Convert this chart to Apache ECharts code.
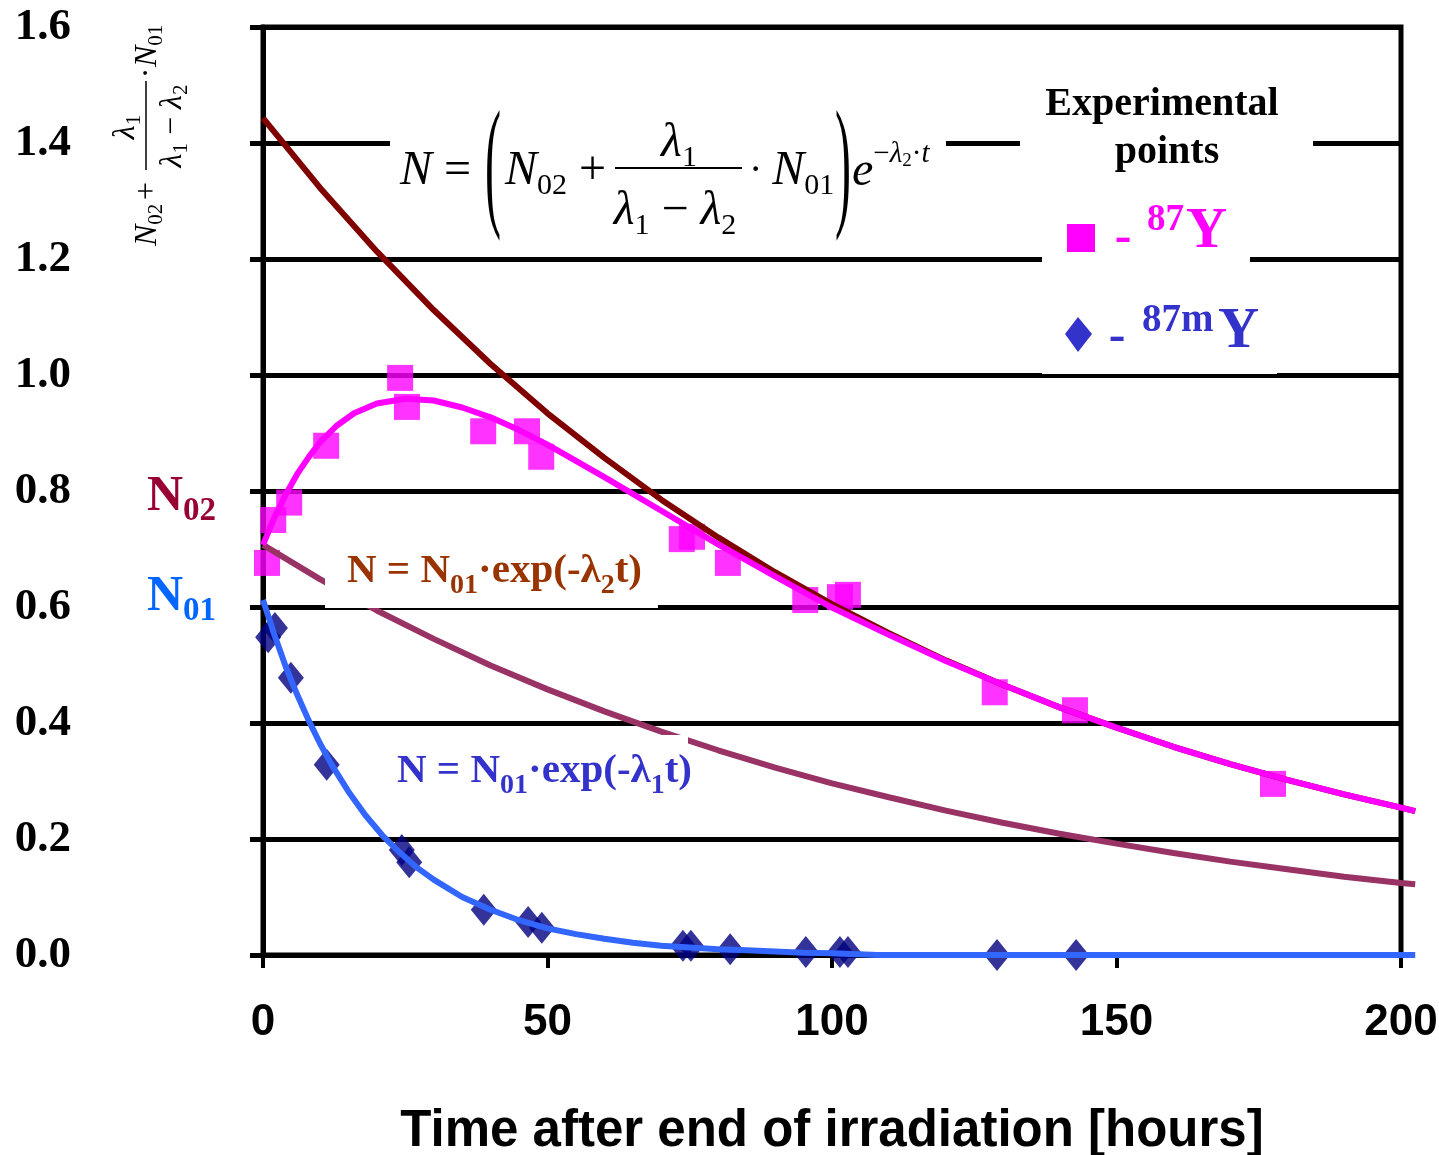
<!DOCTYPE html>
<html>
<head>
<meta charset="utf-8">
<script src="https://cdn.jsdelivr.net/npm/echarts@6/dist/echarts.min.js"></script>
<style>
  html, body { margin: 0; padding: 0; background: #fff; }
  #chart { width: 1439px; height: 1155px; }
</style>
</head>
<body>
<div id="chart"></div>
<script>
// experimental points [hours, N]
const pts87Y = [
  [0.7, 0.676], [1.8, 0.75], [4.6, 0.78], [11.1, 0.878], [24.1, 0.995], [25.3, 0.945],
  [38.7, 0.903], [46.4, 0.903], [48.9, 0.859], [73.6, 0.717], [75.4, 0.721], [81.7, 0.676],
  [95.3, 0.612], [101.4, 0.617], [102.8, 0.621], [128.6, 0.453], [142.7, 0.422], [177.5, 0.295]
]
const pts87mY = [
  [0.9, 0.548], [2.1, 0.564], [4.9, 0.478], [11.2, 0.328], [24.4, 0.181], [25.7, 0.16],
  [38.8, 0.078], [46.6, 0.057], [49.0, 0.047], [73.8, 0.016], [75.2, 0.016], [82.1, 0.01],
  [95.4, 0.005], [101.4, 0.005], [102.8, 0.005], [129.0, 0.0], [142.9, 0.0]
]

// model curves (they run a little past 200 h)
const curveSum = [
  [0, 0.707], [1, 0.731], [2, 0.754], [4, 0.794], [6, 0.829], [8, 0.858], [10, 0.884],
  [13, 0.913], [16, 0.934], [20, 0.951], [25, 0.959], [30, 0.956], [35, 0.944], [40, 0.927],
  [45, 0.905], [50, 0.88], [55, 0.852], [60, 0.824], [70, 0.766], [80, 0.708], [90, 0.653],
  [100, 0.599], [110, 0.552], [120, 0.507], [130, 0.466], [140, 0.427], [150, 0.392],
  [160, 0.359], [170, 0.329], [180, 0.302], [190, 0.277], [200, 0.254], [202.5, 0.248]
]
const curveTop = [
  [0, 1.443], [10, 1.323], [20, 1.213], [30, 1.112], [40, 1.019], [50, 0.934], [60, 0.857],
  [70, 0.785], [80, 0.72], [90, 0.66], [100, 0.605], [110, 0.555], [120, 0.508], [130, 0.466],
  [140, 0.427], [150, 0.392], [160, 0.359], [170, 0.329], [180, 0.302], [190, 0.277],
  [200, 0.254], [202.5, 0.248]
]
const curveN02 = [
  [0, 0.707], [10, 0.648], [20, 0.594], [30, 0.545], [40, 0.499], [50, 0.458], [60, 0.42],
  [70, 0.385], [80, 0.353], [90, 0.323], [100, 0.296], [110, 0.272], [120, 0.249], [130, 0.228],
  [140, 0.209], [150, 0.192], [160, 0.176], [170, 0.161], [180, 0.148], [190, 0.135],
  [200, 0.124], [202.5, 0.122]
]
const curveN01 = [
  [0, 0.612], [2, 0.552], [4, 0.497], [6, 0.449], [8, 0.405], [10, 0.365], [12, 0.329],
  [15, 0.282], [18, 0.241], [21, 0.206], [24, 0.177], [27, 0.151], [30, 0.13], [35, 0.1],
  [40, 0.078], [45, 0.06], [50, 0.046], [55, 0.036], [60, 0.028], [65, 0.021], [70, 0.016],
  [75, 0.013], [80, 0.01], [85, 0.008], [90, 0.006], [95, 0.004], [100, 0.003], [108, 0],
  [150, 0], [202.5, 0]
]

const serif = '"Liberation Serif", "Times New Roman", serif'
const sans = '"Liberation Sans", Arial, sans-serif'

// plot box: x 0..200 h spans 263..1401 px, curves continue to 202.5 h
const plotLeft = 263
const plotRight = 1401
const curveEnd = 202.5
const extRight = 1439 - (plotLeft + (plotRight - plotLeft) * curveEnd / 200)

function tk (size, italic, bold, pad) {
  return {
    fontFamily: serif,
    fontSize: size,
    fontStyle: italic ? 'italic' : 'normal',
    fontWeight: bold ? 'bold' : 'normal',
    padding: pad || [0, 0, 0, 0]
  }
}

function txt (text, x, y, opt) {
  opt = opt || {}
  const align = opt.align || 'left'
  return {
    type: 'text',
    x: x,
    y: y,
    z: 11,
    silent: true,
    scaleY: opt.scaleY || 1,
    style: {
      text: text,
      fill: opt.color || '#000',
      fontFamily: serif,
      fontSize: opt.size || 48,
      fontStyle: opt.italic ? 'italic' : 'normal',
      fontWeight: opt.bold ? 'bold' : 'normal',
      align: align,
      textAlign: align,
      verticalAlign: 'middle',
      textVerticalAlign: 'middle',
      rich: opt.rich
    }
  }
}

function box (x, y, w, h) {
  return { type: 'rect', z: 10, silent: true, shape: { x: x, y: y, width: w, height: h }, style: { fill: '#fff' } }
}

// text styles
const fm = { i: tk(48, true), r: tk(48), s: tk(30, false, false, [30, 0, 0, 0]), d: tk(40) }
const ex = {
  i: tk(48, true),
  u: tk(29, false, false, [0, 0, 36, 0]),
  ui: tk(29, true, false, [0, 0, 36, 0]),
  us: tk(19, false, false, [0, 0, 22, 0])
}
const rl = { i: tk(32, true), r: tk(32), s: tk(21, false, false, [16, 0, 0, 0]) }
const lab = { b: tk(41, false, true), s: tk(28, false, true, [30, 0, 0, 0]) }
const nl = { n: tk(50, false, true), s: tk(33, false, true, [28, 0, 0, 0]) }

const graphics = [
  // white boxes behind the annotations
  box(390, 98, 556, 144),
  box(1020, 85, 293, 105),
  box(1042, 190, 208, 90),
  box(1042, 280, 235, 94),
  box(325, 548, 333, 60),
  box(385, 735, 303, 70),

  // main formula
  txt('{i|N}{r| =}', 400, 171, { rich: fm }),
  txt('(', 493, 172, { align: 'center', scaleY: 3 }),
  txt('{i|N}{s|02}{r| +}', 505, 171, { rich: fm }),
  txt('{i|λ}{s|1}', 679, 143, { align: 'center', rich: fm }),
  { type: 'line', z: 11, silent: true, shape: { x1: 615, y1: 168, x2: 742, y2: 168 }, style: { stroke: '#000', lineWidth: 2 } },
  txt('{i|λ}{s|1}{r| − }{i|λ}{s|2}', 675, 211, { align: 'center', rich: fm }),
  txt('{d|· }{i|N}{s|01}', 749, 171, { rich: fm }),
  txt(')', 843, 172, { align: 'center', scaleY: 3 }),
  txt('{i|e}{u|−}{ui|λ}{us|2}{u|·}{ui|t}', 852, 172, { rich: ex }),

  // rotated y axis title
  {
    type: 'group',
    x: 148,
    y: 133,
    rotation: Math.PI / 2,
    children: [
      txt('{i|N}{s|02}', -113, 0, { rich: rl }),
      txt('+', -58, 0, { size: 32, align: 'center' }),
      txt('{i|λ}{s|1}', 6, -22, { align: 'center', rich: rl }),
      { type: 'line', z: 11, silent: true, shape: { x1: -37, y1: -2, x2: 52, y2: -2 }, style: { stroke: '#000', lineWidth: 1.5 } },
      txt('{i|λ}{s|1}{r| − }{i|λ}{s|2}', 7, 25, { align: 'center', rich: rl }),
      txt('·', 60, 0, { size: 32, align: 'center' }),
      txt('{i|N}{s|01}', 66, 0, { rich: rl })
    ]
  },

  // legend
  txt('Experimental', 1162, 105, { size: 40, bold: true, align: 'center' }),
  txt('points', 1167, 153, { size: 40, bold: true, align: 'center' }),
  { type: 'rect', z: 11, silent: true, shape: { x: 1067, y: 224, width: 28, height: 28 }, style: { fill: '#FF00FF' } },
  txt('-', 1123, 239, { size: 50, bold: true, align: 'center', color: '#FF00FF' }),
  txt('87', 1147, 220, { size: 37, bold: true, color: '#FF00FF' }),
  txt('Y', 1186, 232, { size: 57, bold: true, color: '#FF00FF' }),
  { type: 'polygon', z: 11, silent: true, shape: { points: [[1078, 317], [1092, 334], [1078, 352], [1065, 334]] }, style: { fill: '#3333CC' } },
  txt('-', 1117, 338, { size: 50, bold: true, align: 'center', color: '#3333CC' }),
  txt('87m', 1142, 321, { size: 39, bold: true, color: '#3333CC' }),
  txt('Y', 1218, 332, { size: 57, bold: true, color: '#3333CC' }),

  // curve labels
  txt('{n|N}{s|02}', 147, 497, { color: '#990033', rich: nl }),
  txt('{n|N}{s|01}', 147, 597, { color: '#0066FF', rich: nl }),
  txt('{b|N = N}{s|01}{b|·exp(-λ}{s|2}{b|t)}', 347, 571, { color: '#993300', rich: lab }),
  txt('{b|N = N}{s|01}{b|·exp(-λ}{s|1}{b|t)}', 397, 771, { color: '#3333CC', rich: lab })
]

function curve (data, color) {
  return {
    type: 'line',
    xAxisIndex: 1,
    yAxisIndex: 1,
    data: data,
    symbol: 'none',
    clip: false,
    color: color,
    lineStyle: { width: 6, color: color }
  }
}

const chart = echarts.init(document.getElementById('chart'))
chart.setOption({
  animation: false,
  backgroundColor: '#fff',
  grid: [
    {
      left: plotLeft,
      right: 1439 - plotRight,
      top: 27,
      bottom: 200,
      outerBoundsMode: 'none',
      containLabel: false,
      show: true,
      borderColor: '#000',
      borderWidth: 5
    },
    // same scale, just wide enough for the curves that run past 200 h
    { left: plotLeft, right: extRight, top: 27, bottom: 200, outerBoundsMode: 'none', containLabel: false, show: false }
  ],
  xAxis: [
    {
      type: 'value',
      min: 0,
      max: 200,
      interval: 50,
      name: 'Time after end of irradiation [hours]',
      nameLocation: 'middle',
      nameGap: 151,
      nameTextStyle: { fontFamily: sans, fontWeight: 'bold', fontSize: 51, color: '#000' },
      axisLine: { onZero: false, lineStyle: { color: '#000', width: 5 } },
      axisTick: { length: 13, lineStyle: { color: '#000', width: 4 } },
      axisLabel: { margin: 46, fontFamily: sans, fontWeight: 'bold', fontSize: 44, color: '#000' },
      splitLine: { show: false }
    },
    { gridIndex: 1, type: 'value', min: 0, max: curveEnd, show: false }
  ],
  yAxis: [
    {
      type: 'value',
      min: 0,
      max: 1.6,
      interval: 0.2,
      axisLine: { show: true, lineStyle: { color: '#000', width: 5 } },
      axisTick: { show: true, length: 13, lineStyle: { color: '#000', width: 5 } },
      axisLabel: {
        margin: 192,
        fontFamily: serif,
        fontWeight: 'bold',
        fontSize: 45,
        color: '#000',
        formatter: v => v.toFixed(1)
      },
      splitLine: { show: true, lineStyle: { color: '#000', width: 5 } }
    },
    { gridIndex: 1, type: 'value', min: 0, max: 1.6, show: false }
  ],
  series: [
    curve(curveN02, '#993366'),
    curve(curveTop, '#800000'),
    curve(curveSum, '#FF00FF'),
    curve(curveN01, '#3366FF'),
    { type: 'scatter', data: pts87Y, symbol: 'rect', symbolSize: 26, itemStyle: { color: '#FF00FF' } },
    { type: 'scatter', data: pts87mY, symbol: 'diamond', symbolSize: [26, 32], itemStyle: { color: '#000080' } }
  ],
  graphic: graphics
})
</script>
</body>
</html>
